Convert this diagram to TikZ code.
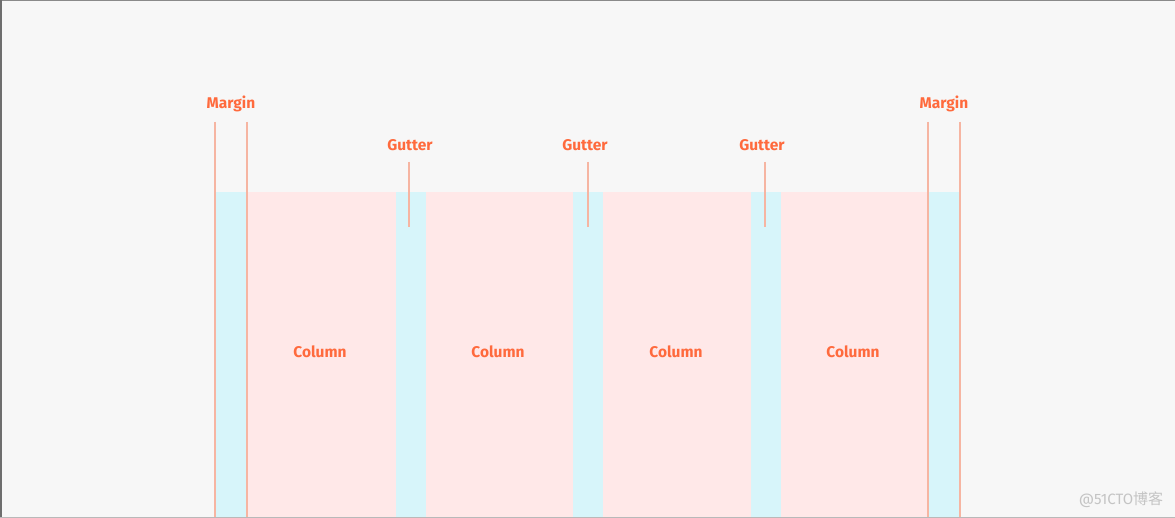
\documentclass[tikz,border=0pt]{standalone}
\usepackage{fontspec}
\setmainfont{Fira Sans}
\newfontfamily\cjk{Noto Sans CJK SC}
\definecolor{bgc}{HTML}{F7F7F7}
\definecolor{cyanc}{HTML}{D7F5FA}
\definecolor{pinkc}{HTML}{FFE8E8}
\definecolor{linec}{HTML}{F6B5A2}
\definecolor{txtc}{HTML}{FF6A3D}
\definecolor{wmc}{HTML}{C4C4C4}
\definecolor{framec}{HTML}{8A8A8A}
\tikzset{
  lbl/.style={text=txtc, font=\fontsize{15.5}{17}\selectfont\bfseries, inner sep=0pt},
  colband/.style={fill=pinkc, draw=none},
  gutband/.style={fill=cyanc, draw=none},
  guide/.style={draw=linec, line width=1.8pt},
}
\begin{document}
\begin{tikzpicture}[x=1pt,y=-1pt]
\useasboundingbox (0,0) rectangle (1175,518);
\fill[bgc] (0,0) rectangle (1175,518);
% bands
\fill[gutband] (215,192) rectangle (247,518);
\fill[colband] (247,192) rectangle (396,518);
\fill[gutband] (396,192) rectangle (426,518);
\fill[colband] (426,192) rectangle (573,518);
\fill[gutband] (573,192) rectangle (603,518);
\fill[colband] (603,192) rectangle (751,518);
\fill[gutband] (751,192) rectangle (781,518);
\fill[colband] (781,192) rectangle (928,518);
\fill[gutband] (928,192) rectangle (960,518);
% labels
\node[lbl] (ml) at (231,104) {Margin};
\node[lbl] (mr) at (944,104) {Margin};
\node[lbl] (g1) at (410,145) {Gutter};
\node[lbl] (g2) at (585,145) {Gutter};
\node[lbl] (g3) at (762,145) {Gutter};
\node[lbl] (c1) at (320,352) {Column};
\node[lbl] (c2) at (498,352) {Column};
\node[lbl] (c3) at (676,352) {Column};
\node[lbl] (c4) at (853,352) {Column};
% guide coordinates
\coordinate (ml1t) at (215,122); \coordinate (ml1b) at (215,518);
\coordinate (ml2t) at (247,122); \coordinate (ml2b) at (247,518);
\coordinate (mr1t) at (928,122); \coordinate (mr1b) at (928,518);
\coordinate (mr2t) at (960,122); \coordinate (mr2b) at (960,518);
\coordinate (g1t) at (409,162); \coordinate (g1b) at (409,227);
\coordinate (g2t) at (588,162); \coordinate (g2b) at (588,227);
\coordinate (g3t) at (765,162); \coordinate (g3b) at (765,227);
\draw[guide] (ml1t) -- (ml1b);
\draw[guide] (ml2t) -- (ml2b);
\draw[guide] (mr1t) -- (mr1b);
\draw[guide] (mr2t) -- (mr2b);
\draw[guide] (g1t) -- (g1b);
\draw[guide] (g2t) -- (g2b);
\draw[guide] (g3t) -- (g3b);
% watermark
\node[text=wmc, font=\fontsize{15}{17}\selectfont, inner sep=0pt] (wm) at (1121,500) {@51CTO{\cjk 博客}};
% frame
\draw[framec, line width=1.2pt] (0,0.6) -- (1175,0.6);
\draw[framec!80!black, line width=2pt] (1,0) -- (1,518);
\draw[framec!60, line width=1.2pt] (0,517.4) -- (1175,517.4);
\end{tikzpicture}
\end{document}
